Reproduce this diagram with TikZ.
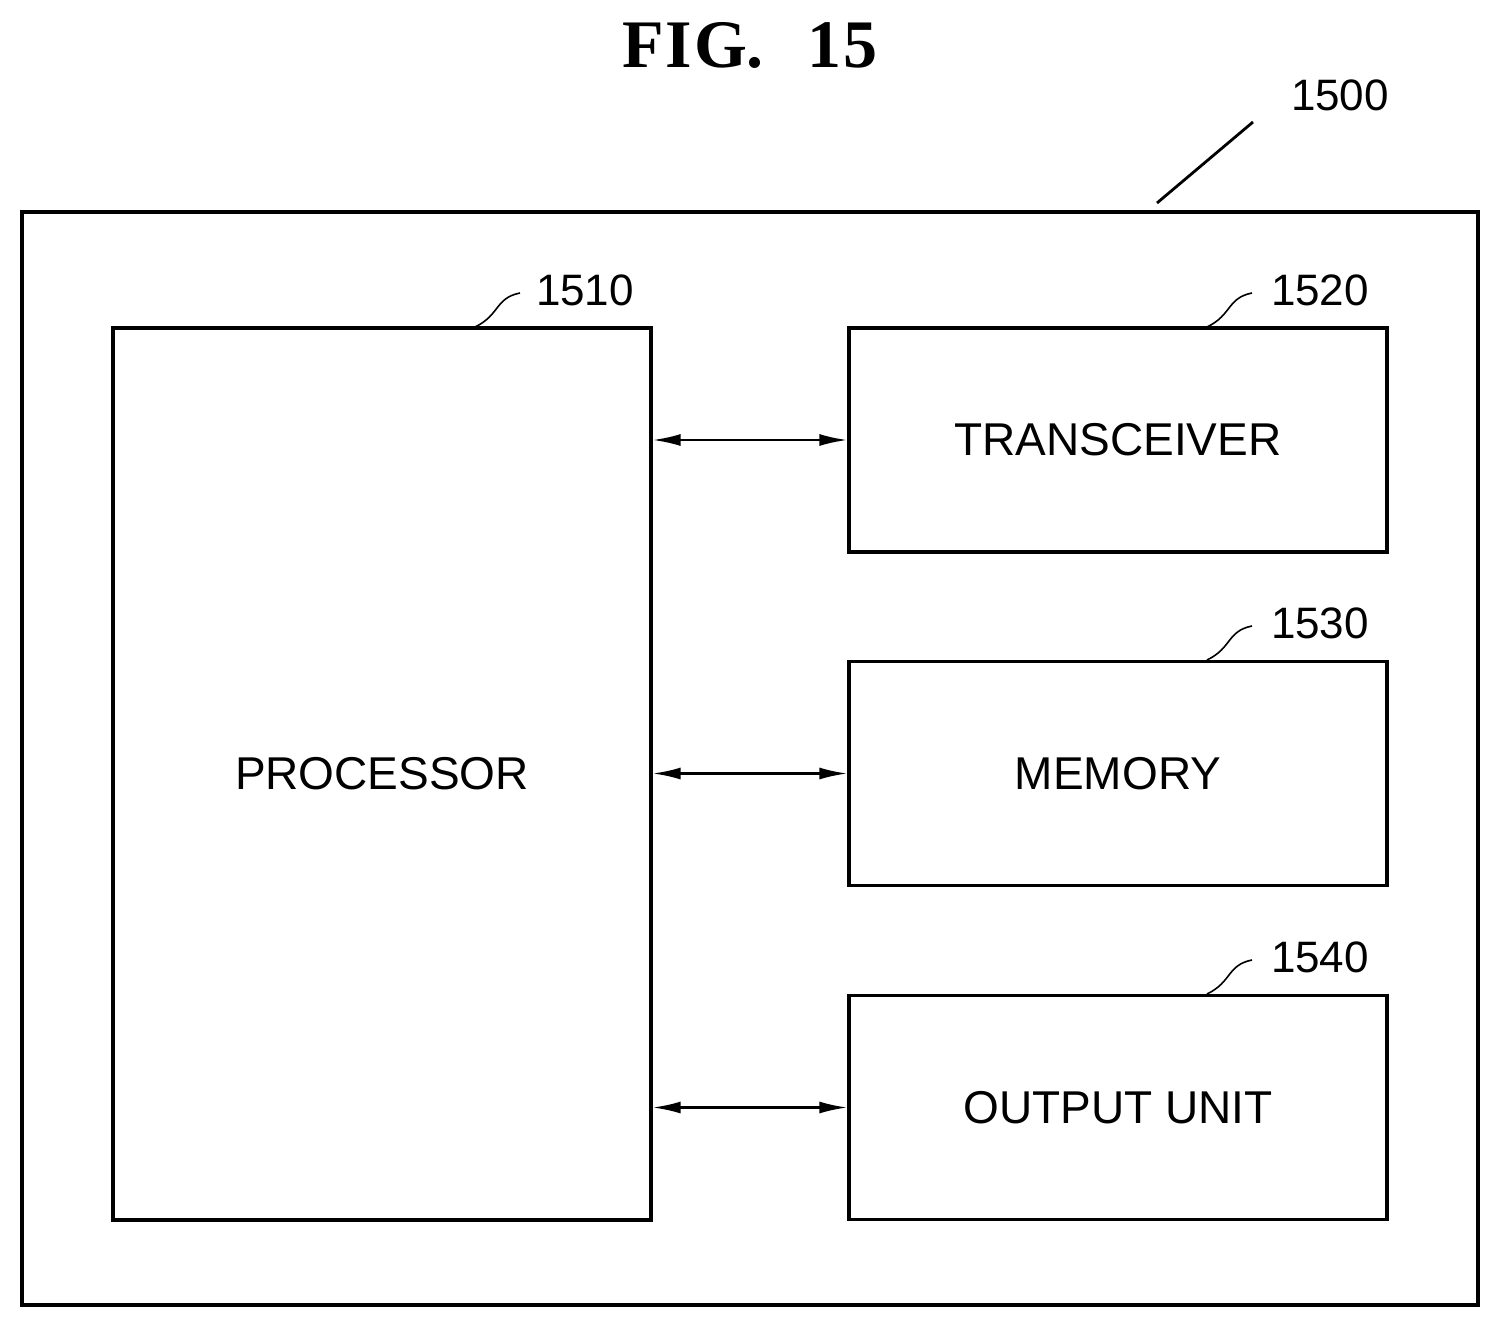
\documentclass[tikz,border=0pt]{standalone}
\usepackage{fontspec}
\setmainfont{Liberation Sans}
\newfontfamily\titlefont{Liberation Serif}
\usetikzlibrary{arrows.meta}
\begin{document}
\begin{tikzpicture}[x=0.5pt,y=-0.5pt,
  box/.style={draw,line width=1.6pt,minimum width=269pt,minimum height=112pt,inner sep=0,font=\fontsize{23}{26}\selectfont},
  num/.style={font=\fontsize{22}{24}\selectfont,inner sep=0},
  lead/.style={line width=0.8pt},
  conn/.style={line width=1.2pt,{Latex[length=14pt,width=6pt]}-{Latex[length=14pt,width=6pt]}}]
\useasboundingbox (0,0) rectangle (1501,1327);
\node[font=\titlefont\bfseries\fontsize{34}{36}\selectfont] (title) at (750,45) {F\kern1ptI\kern1ptG.\hspace{22pt}1\kern1pt5};
\node[draw,line width=1.8pt,minimum width=728pt,minimum height=546.5pt,inner sep=0] (outer) at (750,758.5) {};
\node[num] (n1500) at (1340,95) {1500};
\coordinate (l1500) at (1157,203);
\draw[line width=1.4pt] (l1500) -- (1253,122);
\node[box,minimum width=269pt,minimum height=446pt] (proc) at (382,774) {PROCESSOR};
\node[box] (trx) at (1118,440) {TRANSCEIVER};
\node[box] (mem) at (1118,773.5) {MEMORY};
\node[box] (out) at (1118,1107.5) {OUTPUT UNIT};
\node[num] (n1510) at (585,290) {1510};
\node[num] (n1520) at (1320,290) {1520};
\node[num] (n1530) at (1320,623) {1530};
\node[num] (n1540) at (1320,957) {1540};
\draw[lead] (475,327) .. controls (500,315) and (495,298) .. (520,293);
\draw[lead] (1207,327) .. controls (1232,315) and (1227,298) .. (1252,293);
\draw[lead] (1207,660) .. controls (1232,648) and (1227,631) .. (1252,626);
\draw[lead] (1207,994) .. controls (1232,982) and (1227,965) .. (1252,960);
\draw[conn] (proc.east |- trx.west) -- (trx.west);
\draw[conn] (proc.east |- mem.west) -- (mem.west);
\draw[conn] (proc.east |- out.west) -- (out.west);
\end{tikzpicture}
\end{document}
